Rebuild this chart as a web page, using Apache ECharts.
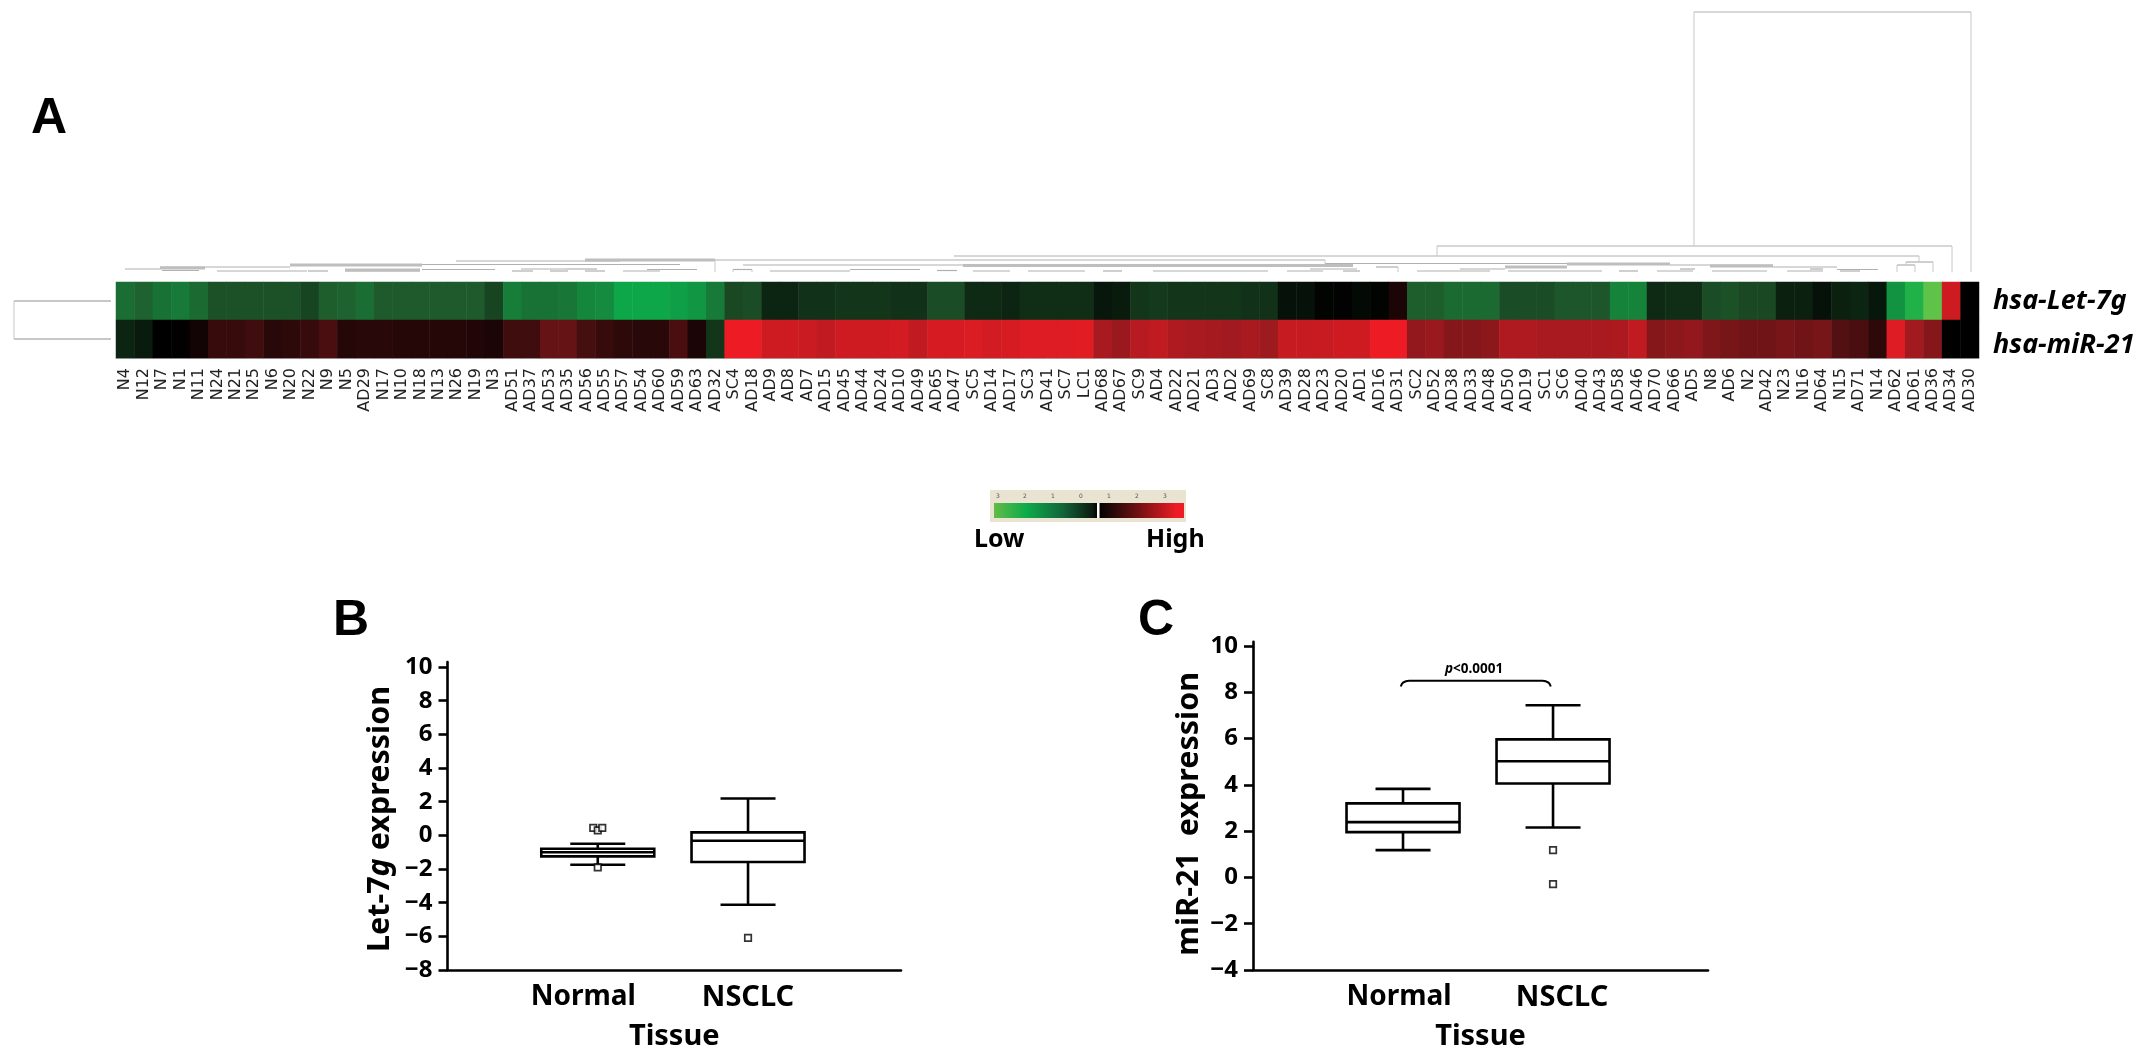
<!DOCTYPE html>
<html><head><meta charset="utf-8"><style>html,body{margin:0;padding:0;background:#fff}#c{width:2150px;height:1057px}</style>
<script src="https://cdn.jsdelivr.net/npm/echarts@6/dist/echarts.min.js"></script></head><body><div id="c"></div><script>
const samples = ['N4','N12','N7','N1','N11','N24','N21','N25','N6','N20','N22','N9','N5','AD29','N17','N10','N18','N13','N26','N19','N3','AD51','AD37','AD53','AD35','AD56','AD55','AD57','AD54','AD60','AD59','AD63','AD32','SC4','AD18','AD9','AD8','AD7','AD15','AD45','AD44','AD24','AD10','AD49','AD65','AD47','SC5','AD14','AD17','SC3','AD41','SC7','LC1','AD68','AD67','SC9','AD4','AD22','AD21','AD3','AD2','AD69','SC8','AD39','AD28','AD23','AD20','AD1','AD16','AD31','SC2','AD52','AD38','AD33','AD48','AD50','AD19','SC1','SC6','AD40','AD43','AD58','AD46','AD70','AD66','AD5','N8','AD6','N2','AD42','N23','N16','AD64','N15','AD71','N14','AD62','AD61','AD36','AD34','AD30'];
const genes = ['hsa-Let-7g','hsa-miR-21'];
const let7g = [-1.25,-1.1,-1.3,-1.4,-1.2,-0.9,-0.9,-0.9,-0.9,-0.9,-0.75,-1.05,-1.1,-1.25,-1,-1,-1,-1,-1,-1,-0.75,-1.45,-1.3,-1.3,-1.35,-1.55,-1.6,-1.95,-1.95,-1.95,-1.85,-1.75,-1.4,-0.8,-0.85,-0.4,-0.4,-0.55,-0.55,-0.6,-0.6,-0.6,-0.55,-0.55,-0.85,-0.85,-0.45,-0.45,-0.4,-0.5,-0.5,-0.5,-0.5,-0.25,-0.3,-0.6,-0.65,-0.6,-0.6,-0.6,-0.6,-0.55,-0.55,-0.2,-0.2,-0.05,-0.02,-0.1,-0.05,0.3,-1.05,-1.05,-1.2,-1.2,-1.2,-0.85,-0.85,-0.85,-0.95,-0.95,-0.95,-1.5,-1.5,-0.45,-0.5,-0.5,-0.85,-0.9,-0.8,-0.8,-0.35,-0.35,-0.2,-0.35,-0.4,-0.25,-1.7,-2.2,-2.8,2.6,0];
const miR21 = [-0.4,-0.3,0,0.02,0.2,0.6,0.6,0.7,0.45,0.5,0.6,0.8,0.4,0.45,0.45,0.4,0.4,0.4,0.4,0.35,0.3,0.7,0.7,1.15,1.15,0.75,0.6,0.5,0.45,0.45,0.8,0.3,-0.6,3,3,2.6,2.6,2.55,2.4,2.6,2.6,2.6,2.65,2.4,2.7,2.7,2.75,2.65,2.7,2.8,2.8,2.8,2.85,2.1,1.9,2.3,2.4,2.2,2.1,2.05,2,2.1,1.95,2.5,2.5,2.5,2.6,2.6,3,3,1.8,1.9,1.6,1.6,1.7,2.2,2.2,2.1,2.1,2.1,2.1,2.15,2.4,1.6,1.7,1.8,1.5,1.4,1.3,1.3,1.4,1.3,1.4,0.9,0.8,0.5,2.8,2,1.6,0,0];
const heatColors = ['#72c947','#0cab4a','#1f5a2c','#000000','#5c1214','#a01a1f','#ed1c24'];

// dendrogram: [from, to, height]
const dendroThin = [[125,160,13],[160,290,15],[162,199,11.5],[217,307,11],[308,328,11],[345,420,11],[422,495,12.5],[456,620,21],[422,680,17.5],[512,533,11],[521,567,13],[550,568,11],[567,597,13],[585,605,11],[623,660,11],[647,697,12.5],[715,1325,22],[733,752,12.5],[743,963,17],[770,850,11],[850,920,12.5],[937,957,11.5],[973,1010,11],[1028,1085,11],[1103,1122,11],[954,1919,26],[1437,1952,36],[1694,1971,270],[1325,1670,18.5],[1376,1398,15],[1153,1268,11],[1287,1323,11],[1310,1357,13],[1343,1360,11],[1417,1490,11],[1460,1505,13],[1508,1602,11],[1619,1638,11],[1657,1693,11],[1680,1695,13],[1712,1767,11],[1787,1823,11],[1810,1823,13],[1840,1860,11],[1837,1878,12.5],[1773,1837,15],[1670,1773,17],[1906,1933,20],[1897,1915,17]];
const dendroThick = [[290,422,17],[585,715,22],[963,1353,16.5],[1505,1567,15],[1567,1670,18],[1710,1773,16],[160,205,14],[345,420,12]];
// dendrogram drops: [position, from height, to height]
const dendroDrops = [[1694,36,270],[1971,10,270],[1952,10,36],[1437,26,36],[1919,20,26],[1933,10,20],[1906,17,20],[1897,10,17],[1915,10,17],[1325,18.5,22],[1398,10,15],[715,10,22],[733,10,12.5],[752,10,12.5]];
const rowDendro = [[14,111,19],[14,111,57]];
const rowDrops = [[14,19,57]];

const tissues = ['Normal','NSCLC'];
const tissuePos = [1,2];
// min, Q1, median, Q3, max
const let7Box = [[-1.75,-1.25,-1.0,-0.8,-0.5],[-4.12,-1.58,-0.32,0.18,2.19]];
const let7Outliers = [[0.97,0.45],[1.0,0.3],[1.03,0.45],[1.0,-1.9],[2,-6.09]];
const mirBox = [[1.18,1.96,2.39,3.2,3.83],[2.16,4.06,5.02,5.97,7.44]];
const mirOutliers = [[2,1.18],[2,-0.29]];
const bracket = [[0.985,8.25],[1.0,8.42],[1.04,8.5],[1.93,8.5],[1.97,8.42],[1.985,8.25]];
const ticksB = [-8,-6,-4,-2,0,2,4,6,8,10];
const ticksC = [-4,-2,0,2,4,6,8,10];

const FONT = '"Noto Sans", sans-serif';
const heatData = [];
samples.forEach((s,i)=>{heatData.push([i,0,let7g[i]]);heatData.push([i,1,miR21[i]]);});

function segSeries(xi,yi,segs,w,color){
  return {type:'custom',xAxisIndex:xi,yAxisIndex:yi,silent:true,clip:false,data:segs,encode:{x:[0,2],y:[1,3]},
    renderItem(p,api){const a=api.coord([api.value(0),api.value(1)]),b=api.coord([api.value(2),api.value(3)]);
      return {type:'line',shape:{x1:a[0],y1:a[1],x2:b[0],y2:b[1]},style:{stroke:color,lineWidth:w,fill:null}};}};
}
const horiz=a=>a.map(s=>[s[0],s[2],s[1],s[2]]);
const vert=a=>a.map(s=>[s[0],s[1],s[0],s[2]]);

function boxSeries(xi,yi,box){
  return {type:'custom',xAxisIndex:xi,yAxisIndex:yi,silent:true,clip:false,
    data:box.map((b,i)=>[tissuePos[i],...b]),encode:{x:0,y:[1,2,3,4,5]},
    renderItem(p,api){
      const x=api.value(0),c=v=>api.coord([x,v]);
      const cx=c(api.value(1))[0],low=c(api.value(1))[1],q1=c(api.value(2))[1],med=c(api.value(3))[1],q3=c(api.value(4))[1],hi=c(api.value(5))[1];
      const hb=56.5,hc=27.5,st={stroke:'#000',lineWidth:2.6,fill:null};
      const L=(x1,y1,x2,y2)=>({type:'line',shape:{x1,y1,x2,y2},style:st});
      return {type:'group',children:[L(cx,low,cx,q1),L(cx,q3,cx,hi),L(cx-hc,low,cx+hc,low),L(cx-hc,hi,cx+hc,hi),
        {type:'rect',shape:{x:cx-hb,y:q3,width:2*hb,height:q1-q3},style:{stroke:'#000',lineWidth:2.6,fill:'#fff'}},
        L(cx-hb,med,cx+hb,med)]};
    }};
}
function outSeries(xi,yi,pts){
  return {type:'scatter',xAxisIndex:xi,yAxisIndex:yi,silent:true,clip:false,data:pts,symbol:'rect',symbolSize:6.5,z:5,
    itemStyle:{color:'#fff',borderColor:'#000',borderWidth:1.7}};
}
function boxX(gi,max,padN,padM){
  return {type:'value',gridIndex:gi,min:0,max,splitLine:{show:false},
    axisLine:{show:true,onZero:false,lineStyle:{color:'#000',width:2.6}},axisTick:{show:false},
    axisLabel:{customValues:tissuePos,margin:13,hideOverlap:false,
      formatter:v=>v===1?'{n|'+tissues[0]+'}':'{m|'+tissues[1]+'}',
      rich:{n:{fontFamily:FONT,fontWeight:'bold',fontSize:28,color:'#000',padding:[0,padN,0,0]},
            m:{fontFamily:FONT,fontWeight:'bold',fontSize:29,color:'#000',padding:[0,0,0,padM]}}},
    name:'Tissue',nameLocation:'middle',nameGap:52,nameTextStyle:{fontFamily:FONT,fontWeight:'bold',fontSize:29,color:'#000'}};
}
function boxY(gi,min,max,ticks,name,rich,gap,shift){
  return {type:'value',gridIndex:gi,min,max,splitLine:{show:false},
    axisLine:{show:true,onZero:false,lineStyle:{color:'#000',width:2.6}},
    axisTick:{show:true,customValues:ticks,length:9,lineStyle:{color:'#000',width:2.6}},
    axisLabel:{customValues:ticks,margin:15,fontFamily:FONT,fontWeight:'bold',fontSize:24,color:'#000',formatter:v=>String(v).replace('-','\u2212')},
    name,nameLocation:'middle',nameRotate:90,nameGap:gap,nameTextStyle:{rich,padding:[0,shift,0,0]}};
}
const titleRich={a:{fontFamily:FONT,fontWeight:'bold',fontSize:30.5,color:'#000'},b:{fontFamily:FONT,fontWeight:'bold',fontStyle:'italic',fontSize:30.5,color:'#000'}};

const option={
  animation:false,backgroundColor:'#fff',
  visualMap:{show:false,seriesIndex:0,min:-3,max:3,inRange:{color:heatColors}},
  grid:[
    {left:116,top:282,width:1863,height:76},
    {left:116,top:12,width:1863,height:270},
    {left:0,top:282,width:116,height:76},
    {left:447.5,top:662,width:453.5,height:308},
    {left:1253,top:641.7,width:455,height:328.3}
  ],
  xAxis:[
    {type:'category',gridIndex:0,data:samples,splitLine:{show:false},axisTick:{show:false},axisLine:{show:true,lineStyle:{color:'#b5b5b5',width:1}},
     axisLabel:{interval:0,rotate:90,margin:10,fontFamily:'"DejaVu Sans"',fontSize:16,color:'#222'}},
    {type:'value',gridIndex:1,min:116,max:1979,show:false},
    {type:'value',gridIndex:2,min:0,max:116,show:false},
    boxX(3,3.018,29,0),boxX(4,3.033,8,18)
  ],
  yAxis:[
    {type:'category',gridIndex:0,data:genes,inverse:true,position:'right',splitLine:{show:false},axisTick:{show:false},axisLine:{show:false},
     axisLabel:{margin:14,formatter:v=>v===genes[0]?'{a|'+v+'}':'{b|'+v+'}',
       rich:{a:{fontFamily:FONT,fontWeight:'bold',fontStyle:'italic',fontSize:27,color:'#000'},
             b:{fontFamily:FONT,fontWeight:'bold',fontStyle:'italic',fontSize:27,color:'#000',padding:[12,0,0,0]}}}},
    {type:'value',gridIndex:1,min:0,max:270,show:false},
    {type:'value',gridIndex:2,min:0,max:76,inverse:true,show:false},
    boxY(3,-8,10.3,ticksB,'{a|Let-7}{b|g}{a| expression}',titleRich,52,6),
    boxY(4,-4,10.19,ticksC,'{a|miR-21  expression}',titleRich,48,16)
  ],
  series:[
    {type:'heatmap',xAxisIndex:0,yAxisIndex:0,data:heatData,silent:true,itemStyle:{borderWidth:0},emphasis:{disabled:true}},
    segSeries(1,1,horiz(dendroThin),1.2,'#b0b0b0'),
    segSeries(1,1,horiz(dendroThick),2.8,'#bebebe'),
    segSeries(1,1,vert(dendroDrops),1,'#c8c8c8'),
    segSeries(2,2,horiz(rowDendro),1.6,'#b5b5b5'),
    segSeries(2,2,vert(rowDrops),1,'#c8c8c8'),
    boxSeries(3,3,let7Box),outSeries(3,3,let7Outliers),
    boxSeries(4,4,mirBox),outSeries(4,4,mirOutliers),
    {type:'line',xAxisIndex:4,yAxisIndex:4,data:bracket,smooth:0.4,showSymbol:false,symbol:'none',silent:true,clip:false,lineStyle:{color:'#000',width:2}}
  ],
  graphic:[
    {type:'text',left:31,top:94,style:{text:'A',fontFamily:'"Liberation Sans"',fontWeight:'bold',fontSize:50,fill:'#000'}},
    {type:'text',left:333,top:596,style:{text:'B',fontFamily:'"Liberation Sans"',fontWeight:'bold',fontSize:50,fill:'#000'}},
    {type:'text',left:1138,top:596,style:{text:'C',fontFamily:'"Liberation Sans"',fontWeight:'bold',fontSize:50,fill:'#000'}},
    {type:'rect',left:990,top:490,shape:{width:196,height:32},style:{fill:'#e9e3d2'}},
    {type:'rect',left:994,top:503,shape:{width:190,height:15},style:{fill:new echarts.graphic.LinearGradient(0,0,1,0,[
      {offset:0,color:'#63bb47'},{offset:.17,color:'#0cab4a'},{offset:.36,color:'#12663a'},{offset:.52,color:'#0a1a10'},{offset:.545,color:'#000'},{offset:.57,color:'#0a0505'},{offset:.75,color:'#6a0f12'},{offset:.96,color:'#ed1c24'},{offset:1,color:'#ed1c24'}])}},
    {type:'rect',left:1097,top:503,shape:{width:2.5,height:15},style:{fill:'#fff'}},
    ...['3','2','1','0','1','2','3'].map((t,i)=>({type:'text',left:[996,1023,1051,1079,1107,1135,1163][i],top:493,style:{text:t,fontFamily:'"DejaVu Sans"',fontSize:6,fill:'#555'}})),
    {type:'text',left:974,top:527,style:{text:'Low',fontFamily:FONT,fontWeight:'bold',fontSize:25,fill:'#000'}},
    {type:'text',left:1146,top:527,style:{text:'High',fontFamily:FONT,fontWeight:'bold',fontSize:25,fill:'#000'}},
    {type:'text',left:1445,top:662,style:{rich:{a:{fontFamily:FONT,fontWeight:'bold',fontStyle:'italic',fontSize:13.5,fill:'#000'},b:{fontFamily:FONT,fontWeight:'bold',fontSize:13.5,fill:'#000'}},text:'{a|p}{b|<0.0001}'}}
  ]
};
echarts.init(document.getElementById('c'),null,{renderer:'canvas'}).setOption(option);
</script></body></html>
